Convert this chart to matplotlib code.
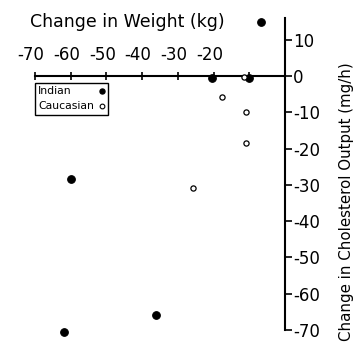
import matplotlib
matplotlib.use("Agg")
import matplotlib.pyplot as plt
from matplotlib.patches import Rectangle
from matplotlib.lines import Line2D
from matplotlib.transforms import ScaledTranslation

# Data
indian_weight = [-6.7, -20.5, -10.0, -60.0, -62.0, -36.0]
indian_chol = [15.0, -0.6, -0.6, -28.5, -70.5, -66.0]
cauc_weight = [-11.4, -17.7, -10.9, -10.9, -25.9]
cauc_chol = [-0.4, -5.7, -9.8, -18.5, -30.9]

x_ticks = [-70, -60, -50, -40, -30, -20, -10]
x_labels = ["-70", "-60", "-50", "-40", "-30", "-20", ""]
y_ticks = [10, 0, -10, -20, -30, -40, -50, -60, -70]
y_labels = ["10", "0", "-10", "-20", "-30", "-40", "-50", "-60", "-70"]
legend_labels = ["Indian", "Caucasian"]

W, H = 361, 343
fig = plt.figure(figsize=(W/100, H/100), dpi=100)
ax = fig.add_axes([35/W, 1-330/H, 250/W, 312/H])
ax.set_xlim(-70, 0)
ax.set_ylim(-70, 16)

ax.scatter(indian_weight, indian_chol, s=30, c="black", edgecolors="black",
           linewidths=0.8, zorder=3, clip_on=False)
ax.scatter(cauc_weight, cauc_chol, s=14, facecolors="white", edgecolors="black",
           linewidths=0.9, zorder=3, clip_on=False)

for s in ["left", "bottom"]:
    ax.spines[s].set_visible(False)
ax.spines["top"].set_position(("data", 0))
ax.spines["top"].set_linewidth(1.5)
ax.spines["right"].set_linewidth(1.5)

ax.xaxis.set_ticks_position("top")
ax.set_xticks(x_ticks)
ax.set_xticklabels(x_labels)
ax.tick_params(axis="x", direction="inout", length=6, width=1.2, labelsize=12, pad=6)
for lab in ax.get_xticklabels():
    lab.set_transform(lab.get_transform() + ScaledTranslation(-4/100, 0, fig.dpi_scale_trans))

ax.yaxis.set_ticks_position("right")
ax.set_yticks(y_ticks)
ax.set_yticklabels(y_labels)
ax.tick_params(axis="y", direction="out", length=5, width=1.2, labelsize=12, pad=1)

fig.text(30/W, 1-22/H, "Change in Weight (kg)", fontsize=12.5, va="center", ha="left")
fig.text(346/W, 1-202/H, "Change in Cholesterol Output (mg/h)", fontsize=10.8,
         rotation=90, va="center", ha="center")

# Legend box (drawn by hand: left-aligned text, marker on the right)
fig.patches.append(Rectangle((35/W, 1-115/H), 73/W, 32/H, transform=fig.transFigure,
                             fill=False, edgecolor="black", linewidth=1.0))
fig.text(38/W, 1-91/H, legend_labels[0], fontsize=7.8, va="center", ha="left")
fig.text(38/W, 1-106/H, legend_labels[1], fontsize=7.8, va="center", ha="left")
fig.lines.append(Line2D([102/W], [1-91/H], transform=fig.transFigure, marker="o",
                        markersize=3.6, color="black", linestyle="none"))
fig.lines.append(Line2D([102/W], [1-106/H], transform=fig.transFigure, marker="o",
                        markersize=3.4, markerfacecolor="white", markeredgecolor="black",
                        markeredgewidth=0.8, linestyle="none"))

fig.savefig("out.png", dpi=100)
